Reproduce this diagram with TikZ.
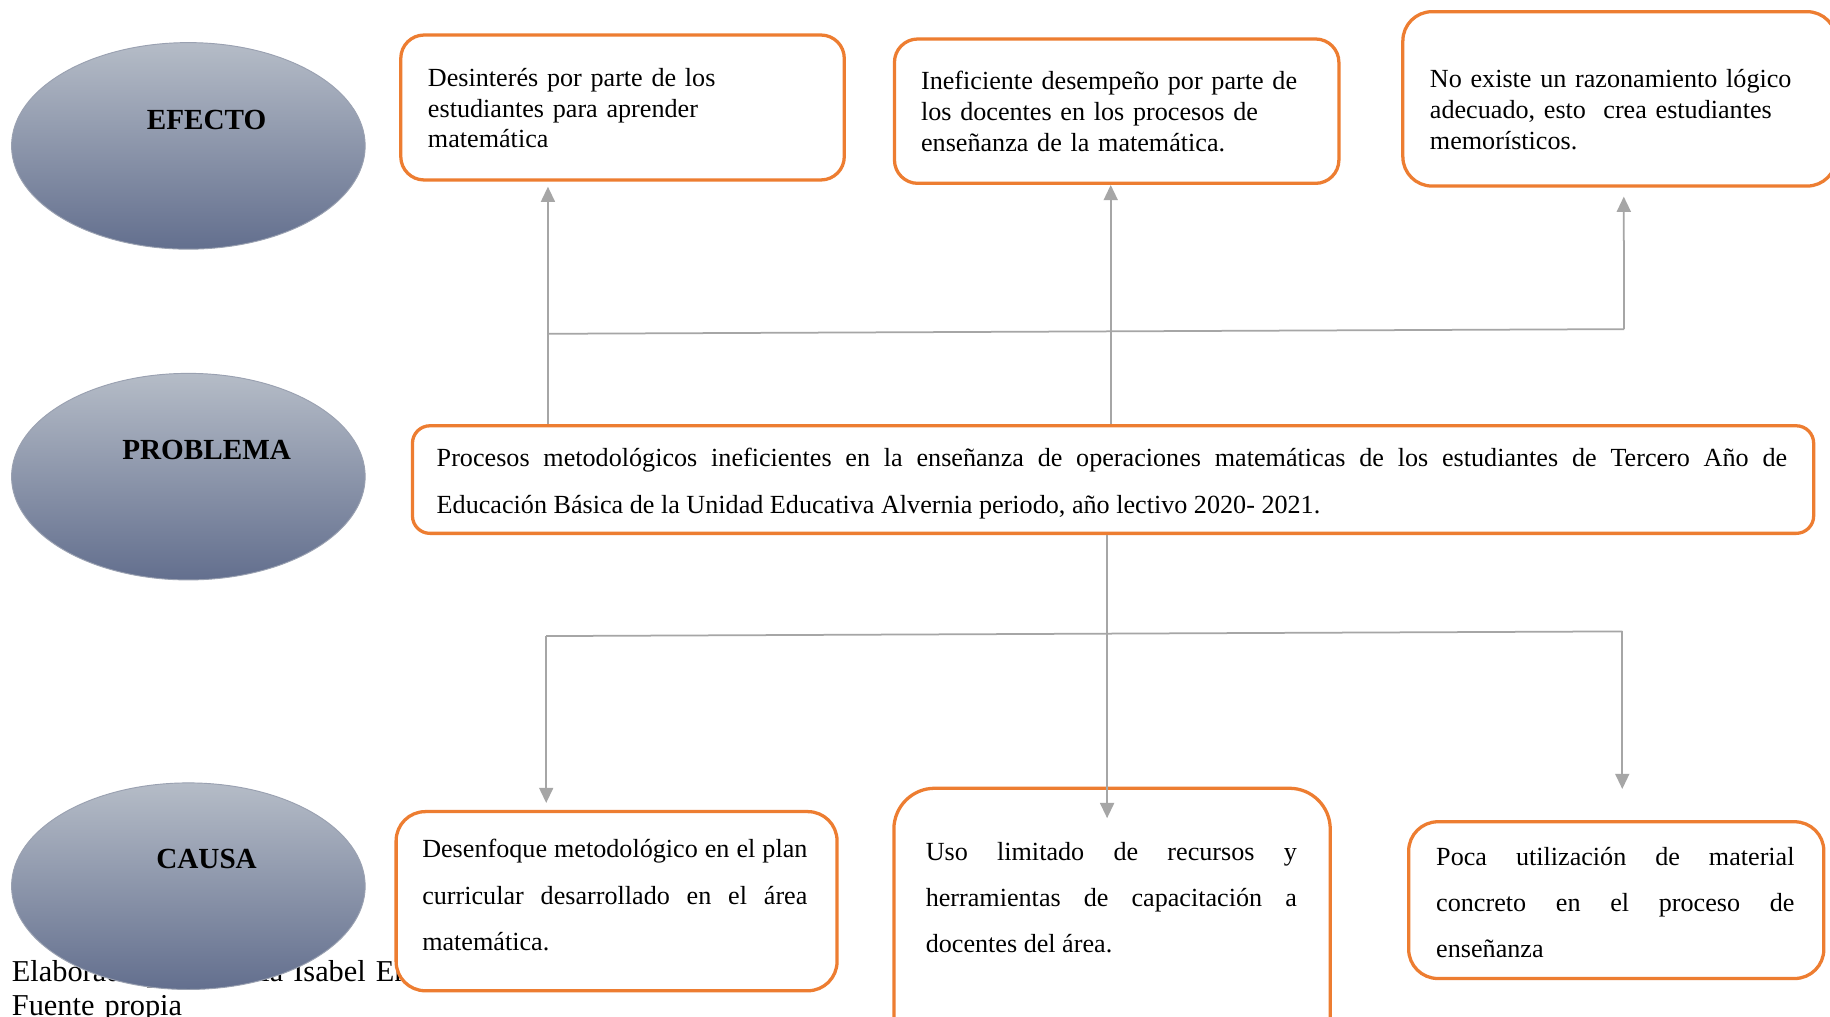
\documentclass[tikz,border=0pt]{standalone}
\usepackage{fontspec}
\setmainfont{Liberation Serif}
\usetikzlibrary{shapes.geometric,arrows.meta}
\definecolor{orng}{HTML}{ED7D31}
\definecolor{cgray}{HTML}{A6A6A6}
\definecolor{elltop}{HTML}{B5BCC7}
\definecolor{ellbot}{HTML}{636F8E}
\definecolor{ellline}{HTML}{9AA1B1}
\tikzset{
  obox/.style={draw=orng, line width=2.8pt, rounded corners=20pt, fill=white, anchor=north west, inner sep=0pt},
  ell/.style={ellipse, draw=ellline, line width=0.8pt, top color=elltop, bottom color=ellbot, minimum width=303pt, minimum height=177pt, inner sep=0pt},
  lbl/.style={font=\fontsize{25pt}{30pt}\selectfont\bfseries, anchor=base, inner sep=0pt},
  ttext/.style={anchor=base west, inner sep=0pt, align=left, text width=345pt, font=\fontsize{22.4pt}{26.4pt}\selectfont},
  jtext/.style={anchor=base west, inner sep=0pt, align=justify, font=\fontsize{22.4pt}{39.6pt}\selectfont},
  conn/.style={draw=cgray, line width=1.5pt},
  arr/.style={conn, -{Triangle[width=12pt,length=13pt]}},
}
\begin{document}
\begin{tikzpicture}[x=1pt,y=-1pt]
\useasboundingbox[fill=white] (0,0) rectangle (1568,871);

% footer (partly hidden)
\node[anchor=base west, inner sep=0pt, align=left, text width=600pt, font=\fontsize{26pt}{29pt}\selectfont] (foot) at (10,841) {Elaborado por: María Isabel Enríquez\\Fuente propia};

% ellipses
\node[ell] (efecto) at (161.4,125) {};
\node[lbl] (efectol) at (177,111) {EFECTO};
\node[ell] (problema) at (161.4,408.4) {};
\node[lbl] (problemal) at (177,394) {PROBLEMA};
\node[ell] (causa) at (161.4,759.3) {};
\node[lbl] (causal) at (177,744) {CAUSA};

% boxes
\node[obox, minimum width=380pt, minimum height=124.2pt] (e1) at (342,28.6) {};
\node[obox, minimum width=380.8pt, minimum height=123.7pt] (e2) at (765,32) {};
\node[obox, rounded corners=25pt, minimum width=371.4pt, minimum height=149.4pt] (e3) at (1200.6,8.6) {};
\node[obox, rounded corners=15pt, minimum width=1200.6pt, minimum height=92.2pt] (p) at (352,363.4) {};
\node[obox, rounded corners=25pt, minimum width=377.8pt, minimum height=153.5pt] (c1) at (338,694) {};
\node[obox, rounded corners=35pt, minimum width=373.9pt, minimum height=231pt] (c2) at (764.5,674) {};
\node[obox, rounded corners=25pt, minimum width=355.7pt, minimum height=134.3pt] (c3) at (1205.6,702.7) {};

% texts
\node[ttext] (e1t) at (366.5,74) {Desinterés por parte de los\\estudiantes para aprender\\matemática};
\node[ttext] (e2t) at (789,76.6) {Ineficiente desempeño por parte de\\los docentes en los procesos de\\enseñanza de la matemática.};
\node[ttext] (e3t) at (1225,75.3) {No existe un razonamiento lógico\\adecuado, esto\ \ crea estudiantes\\memorísticos.};
\node[jtext, text width=1157pt] (pt) at (374,400) {Procesos metodológicos ineficientes en la enseñanza de operaciones matemáticas de los estudiantes de Tercero Año de\linebreak Educación Básica de la Unidad Educativa Alvernia periodo, año lectivo 2020- 2021.};
\node[jtext, text width=330pt] (c1t) at (361.6,735) {Desenfoque metodológico en el plan\linebreak curricular desarrollado en el área\linebreak matemática.};
\node[jtext, text width=318pt] (c2t) at (793,737) {Uso limitado de recursos y\linebreak herramientas de capacitación a\linebreak docentes del área.};
\node[jtext, text width=307pt] (c3t) at (1230.4,741.5) {Poca utilización de material\linebreak concreto en el proceso de\linebreak enseñanza};

% connector points
\coordinate (tl) at (469.5,286);
\coordinate (tr) at (1391.5,282);
\coordinate (t1) at (469.5,160);
\coordinate (t2) at (951.7,158.5);
\coordinate (t3) at (1391.3,168.5);
\coordinate (bl) at (468,545);
\coordinate (br) at (1390,541);
\coordinate (b1) at (468,688);
\coordinate (b2) at (948.6,701);
\coordinate (b3) at (1390,676);

% connectors
\draw[arr] (p.north -| t1) -- (t1);
\draw[arr] (p.north -| t2) -- (t2);
\draw[conn] (tl) -- (tr);
\draw[arr] (tr) -- (t3);
\draw[arr] (p.south -| b2) -- (b2);
\draw[conn] (bl) -- (br);
\draw[arr] (bl) -- (b1);
\draw[arr] (br) -- (b3);
\end{tikzpicture}
\end{document}
